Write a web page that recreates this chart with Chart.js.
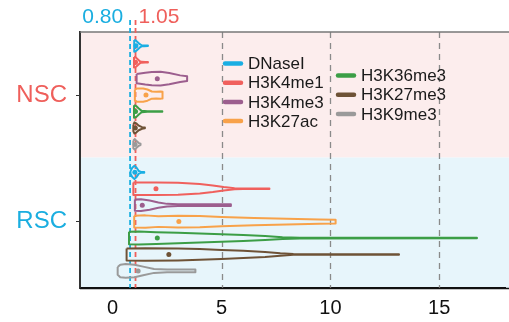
<!DOCTYPE html>
<html>
<head>
<meta charset="utf-8">
<script src="https://cdn.jsdelivr.net/npm/chart.js@4"></script>
<style>
  html, body { margin: 0; padding: 0; background: #fff; }
  #c { display: block; }
</style>
</head>
<body>
<canvas id="c" width="509" height="322"></canvas>
<script>
const marks      = ['DNaseI', 'H3K4me1', 'H3K4me3', 'H3K27ac', 'H3K36me3', 'H3K27me3', 'H3K9me3']
const markColors = ['#1AAEE3', '#F0605D', '#9C5E8E', '#F8A24A', '#3C9E46', '#6E5236', '#9A9A9A']
const groups      = ['NSC', 'RSC']
const groupColors = ['#EF5F5B', '#1AAEE0']
const groupRow    = [0, 7.7]          // first row of each group on the y scale
const xTicks      = [0, 5, 10, 15]
const thresholds  = [0.80, 1.05]
const thresholdColors = ['#1AAEE0', '#EF5F5B']

// violin outlines: [value, relative half width]
const nscShapes = [
  [[0.99, 0.9], [1.05, 0.85], [1.15, 0.55], [1.25, 0.25], [1.33, 0.08], [1.45, 0.05], [1.62, 0.04]],
  [[0.98, 0.8], [1.05, 0.75], [1.15, 0.45], [1.25, 0.15], [1.32, 0.06], [1.5, 0.04], [1.62, 0.04]],
  [[1.1, 0.7], [1.5, 0.9], [1.8, 1.0], [2.2, 1.05], [2.6, 0.85], [3.1, 0.5], [3.42, 0.35]],
  [[1.02, 0.85], [1.1, 1.0], [1.4, 1.0], [1.6, 0.85], [1.8, 0.55], [2.0, 0.5], [2.2, 0.55], [2.29, 0.5]],
  [[0.98, 0.95], [1.08, 0.85], [1.2, 0.45], [1.33, 0.1], [1.6, 0.04], [2.28, 0.04]],
  [[0.95, 0.5], [1.0, 0.85], [1.08, 0.7], [1.2, 0.35], [1.35, 0.12], [1.48, 0.06]],
  [[0.95, 0.6], [1.02, 0.8], [1.1, 0.5], [1.2, 0.2], [1.28, 0.1]]
]
const rscShapes = [
  [[0.82, 0.2], [0.9, 0.7], [1.0, 1.0], [1.1, 0.7], [1.2, 0.2], [1.3, 0.06], [1.45, 0.05]],
  [[0.95, 0.95], [2, 0.95], [3, 0.9], [4, 0.72], [4.6, 0.5], [5.1, 0.25], [5.6, 0.08], [6, 0.05], [7.2, 0.05]],
  [[1.02, 0.85], [1.3, 0.9], [1.7, 0.7], [2.1, 0.4], [2.5, 0.2], [3.0, 0.13], [4.0, 0.13], [5.43, 0.13]],
  [[0.99, 0.9], [1.5, 0.95], [2.1, 0.8], [3, 0.9], [4, 0.85], [5, 0.72], [6.5, 0.55], [8, 0.42], [9.5, 0.32], [10.24, 0.3]],
  [[0.75, 0.95], [1.2, 1.0], [2, 0.9], [3, 0.8], [4, 0.68], [5, 0.58], [6, 0.45], [7, 0.3], [7.8, 0.14], [8.6, 0.05], [16.73, 0.04]],
  [[0.64, 0.9], [1.5, 0.95], [3, 0.9], [4, 0.82], [5, 0.7], [6, 0.55], [7, 0.38], [7.7, 0.18], [8.3, 0.06], [13.15, 0.04]],
  [[0.23, 0.6], [0.35, 0.95], [0.6, 1.05], [1.0, 0.95], [1.4, 0.65], [1.9, 0.3], [2.5, 0.2], [3.8, 0.2]]
]
const nscMedians = [1.07, 1.05, 2.05, 1.53, 1.05, 1.04, 1.03]
const rscMedians = [1.02, 1.99, 1.36, 3.04, 2.05, 2.58, 1.17]

const HALF = 0.4    // row units for a relative width of 1
const FONT = '"Liberation Sans", Arial, Helvetica, sans-serif'

function outline(shape, yc) {
  const top = shape.map(([x, w]) => ({ x, y: yc - w * HALF }))
  const bot = shape.slice().reverse().map(([x, w]) => ({ x, y: yc + w * HALF }))
  return [...top, ...bot, top[0]]
}

const datasets = []
;[nscShapes, rscShapes].forEach((shapes, g) => {
  shapes.forEach((shape, i) => {
    datasets.push({
      label: marks[i],
      data: outline(shape, groupRow[g] + i),
      showLine: true,
      borderColor: markColors[i],
      borderWidth: 2,
      borderJoinStyle: 'round',
      pointRadius: 0,
      fill: false,
      tension: 0
    })
  })
})
;[nscMedians, rscMedians].forEach((meds, g) => {
  meds.forEach((m, i) => {
    datasets.push({
      data: [{ x: m, y: groupRow[g] + i }],
      pointRadius: 2.5,
      pointBackgroundColor: markColors[i],
      pointBorderWidth: 0
    })
  })
})

const decor = {
  id: 'decor',
  beforeDraw(chart) {
    const { ctx, chartArea: a, scales: { y } } = chart
    ctx.save()
    ctx.fillStyle = '#fff'
    ctx.fillRect(0, 0, chart.width, chart.height)
    const split = y.getPixelForValue(6.8)
    ctx.fillStyle = '#FCEDED'
    ctx.fillRect(a.left, a.top, chart.width - a.left, split - a.top)
    ctx.fillStyle = '#E7F5FB'
    ctx.fillRect(a.left, split, chart.width - a.left, a.bottom - split)
    ctx.restore()
  },
  beforeDatasetsDraw(chart) {
    const { ctx, chartArea: a, scales: { x } } = chart
    ctx.save()
    // grey reference lines
    ctx.strokeStyle = '#8A8A8A'
    ctx.lineWidth = 1.3
    ctx.setLineDash([6, 5])
    xTicks.filter(v => v > 0).forEach(v => {
      const px = Math.round(x.getPixelForValue(v)) + 0.5
      ctx.beginPath(); ctx.moveTo(px, a.top); ctx.lineTo(px, a.bottom); ctx.stroke()
    })
    // top border
    ctx.setLineDash([])
    ctx.strokeStyle = '#777'
    ctx.lineWidth = 1.5
    ctx.beginPath(); ctx.moveTo(a.left, a.top); ctx.lineTo(chart.width, a.top); ctx.stroke()
    // threshold lines
    ctx.lineWidth = 1.8
    ctx.setLineDash([5, 3])
    thresholds.forEach((t, k) => {
      const px = x.getPixelForValue(t)
      ctx.strokeStyle = thresholdColors[k]
      ctx.beginPath(); ctx.moveTo(px, a.top - 12); ctx.lineTo(px, a.bottom); ctx.stroke()
    })
    ctx.restore()
  },
  afterDraw(chart) {
    const { ctx, chartArea: a, scales: { x } } = chart
    ctx.save()
    // bottom axis line to the canvas edge
    ctx.strokeStyle = '#111'
    ctx.lineWidth = 1.5
    ctx.beginPath(); ctx.moveTo(a.left, a.bottom + 0.5); ctx.lineTo(chart.width, a.bottom + 0.5); ctx.stroke()

    ctx.font = `21px ${FONT}`
    ctx.textBaseline = 'middle'
    ctx.fillStyle = thresholdColors[0]
    ctx.textAlign = 'right'
    ctx.fillText(thresholds[0].toFixed(2), x.getPixelForValue(thresholds[0]) - 7, 17)
    ctx.fillStyle = thresholdColors[1]
    ctx.textAlign = 'left'
    ctx.fillText(thresholds[1].toFixed(2), x.getPixelForValue(thresholds[1]) + 3, 17)

    // legend, two columns
    const cols = [{ x: 223, y: 63.5, items: [0, 1, 2, 3] }, { x: 336, y: 75.5, items: [4, 5, 6] }]
    ctx.font = `17px ${FONT}`
    ctx.textAlign = 'left'
    ctx.lineCap = 'round'
    ctx.lineWidth = 4.5
    cols.forEach(col => {
      col.items.forEach((i, r) => {
        const yy = col.y + r * 19.2
        ctx.strokeStyle = markColors[i]
        ctx.beginPath(); ctx.moveTo(col.x + 2, yy); ctx.lineTo(col.x + 18, yy); ctx.stroke()
        ctx.fillStyle = '#1a1a1a'
        ctx.fillText(marks[i], col.x + 25, yy + 1)
      })
    })
    ctx.restore()
  }
}

new Chart(document.getElementById('c'), {
  type: 'scatter',
  data: { datasets },
  plugins: [decor],
  options: {
    responsive: false,
    animation: false,
    devicePixelRatio: 1,
    layout: { padding: { top: 32, right: 0, left: 0, bottom: 0 } },
    plugins: { legend: { display: false }, tooltip: { enabled: false } },
    scales: {
      x: {
        type: 'linear',
        min: -1.5,
        max: 18.02,
        afterBuildTicks: s => { s.ticks = xTicks.map(v => ({ value: v })) },
        afterFit: s => { s.height = 34 },
        grid: { display: false, drawTicks: false },
        border: { color: '#111', width: 1.5 },
        ticks: { color: '#111', font: { size: 20, family: FONT }, padding: 8 }
      },
      y: {
        type: 'linear',
        reverse: true,
        min: -0.84,
        max: 14.74,
        afterBuildTicks: s => { s.ticks = [3, 10.7].map(v => ({ value: v })) },
        afterFit: s => { s.width = 80 },
        grid: { drawOnChartArea: false, tickLength: 4, color: '#333' },
        border: { color: '#333', width: 2 },
        ticks: {
          padding: 9,
          font: { size: 24, family: FONT },
          color: c => c.tick && c.tick.value < 7 ? groupColors[0] : groupColors[1],
          callback: v => v < 7 ? groups[0] : groups[1]
        }
      }
    }
  }
})
</script>
</body>
</html>
